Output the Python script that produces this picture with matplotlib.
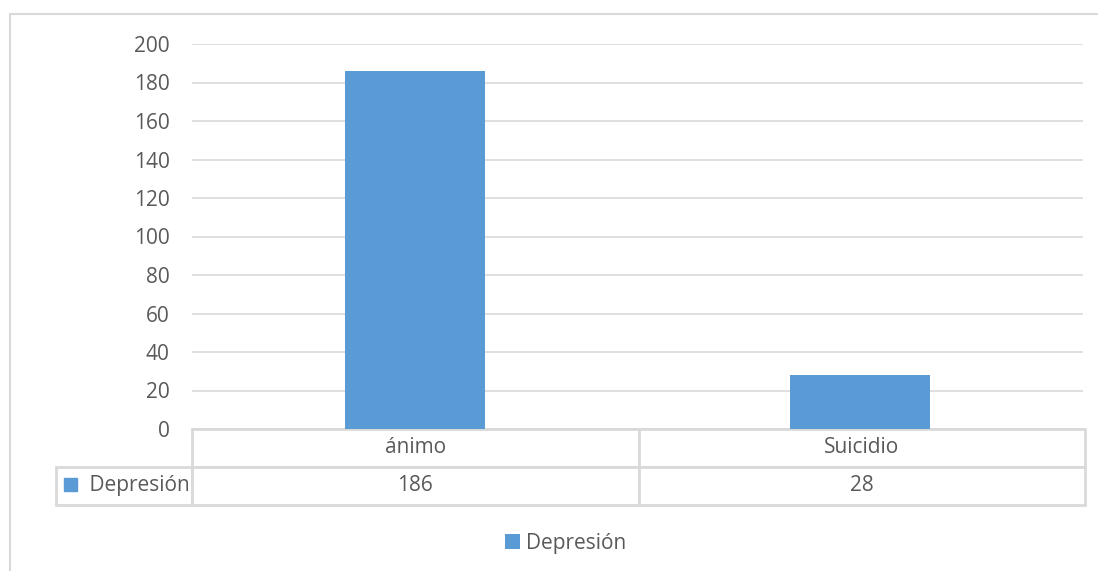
import matplotlib.pyplot as plt
from matplotlib.patches import Rectangle

# data
categories = ["ánimo", "Suicidio"]
values = [186, 28]
series_name = "Depresión"
yticks = [0, 20, 40, 60, 80, 100, 120, 140, 160, 180, 200]

BAR = "#5b9bd5"
GRID = "#d9d9d9"
TXT = "#595959"

plt.rcParams['font.family'] = ['Open Sans', 'DejaVu Sans']

W, H = 1098, 571
fig = plt.figure(figsize=(W / 100, H / 100), dpi=100)

# outer chart border
fig.patches.append(Rectangle((10 / W, -0.1), 1.2, 1 - 14 / H + 0.1, transform=fig.transFigure,
                             fill=False, edgecolor=GRID, linewidth=1.5))

# plot area in pixels
x0, x1, ytop, ybot = 192, 1083, 44, 429
ax = fig.add_axes([x0 / W, 1 - ybot / H, (x1 - x0) / W, (ybot - ytop) / H])

x = list(range(len(categories)))
bars = ax.bar(x, values, width=0.315, color=BAR, label=series_name, zorder=3)
ax.set_xlim(-0.5, len(categories) - 0.5)
ax.set_ylim(0, 200)
ax.set_yticks(yticks)
ax.set_xticks([])
ax.tick_params(axis='y', length=0, pad=16, labelsize=15, labelcolor=TXT)
ax.grid(axis='y', color=GRID, linewidth=1.2, zorder=0)
for s in ax.spines.values():
    s.set_visible(False)

# data table under the axes
px_w = x1 - x0
px_h = ybot - ytop
tl, tr, tb = 56, 1085, 505
bbox = [(tl - x0) / px_w, -(tb - ybot) / px_h, (tr - tl) / px_w, (tb - ybot) / px_h]
label_w = (x0 - tl)
col_w = (tr - x0) / len(categories)
cell_text = [[""] + categories, ["    " + series_name] + [str(v) for v in values]]
tab = ax.table(cellText=cell_text, bbox=bbox, cellLoc='center',
               colWidths=[label_w] + [col_w] * len(categories))
tab.auto_set_font_size(False)
for (r, c), cell in tab.get_celld().items():
    cell.set_edgecolor(GRID)
    cell.set_linewidth(2)
    cell.get_text().set_color(TXT)
    cell.get_text().set_fontsize(15)
    if r == 0 and c == 0:
        cell.visible_edges = ''
    if c == 0 and r == 1:
        cell.get_text().set_ha('center')
tab[1, 0].set_text_props(ha='right')
tab[1, 0]._loc = 'right'
tab[1, 0].PAD = 0.02

# legend key inside the table row label
ax.add_patch(Rectangle(((64 - x0) / px_w, -(491 - ybot) / px_h), 13 / px_w, 13 / px_h,
                       transform=ax.transAxes, color=BAR, clip_on=False))

fig.legend(handles=[bars], labels=[series_name], loc='center',
           bbox_to_anchor=(566 / W, 1 - 543 / H), frameon=False, fontsize=15,
           labelcolor=TXT, handlelength=0.7, handleheight=0.7, handletextpad=0.3)

fig.savefig("out.png", dpi=100)
